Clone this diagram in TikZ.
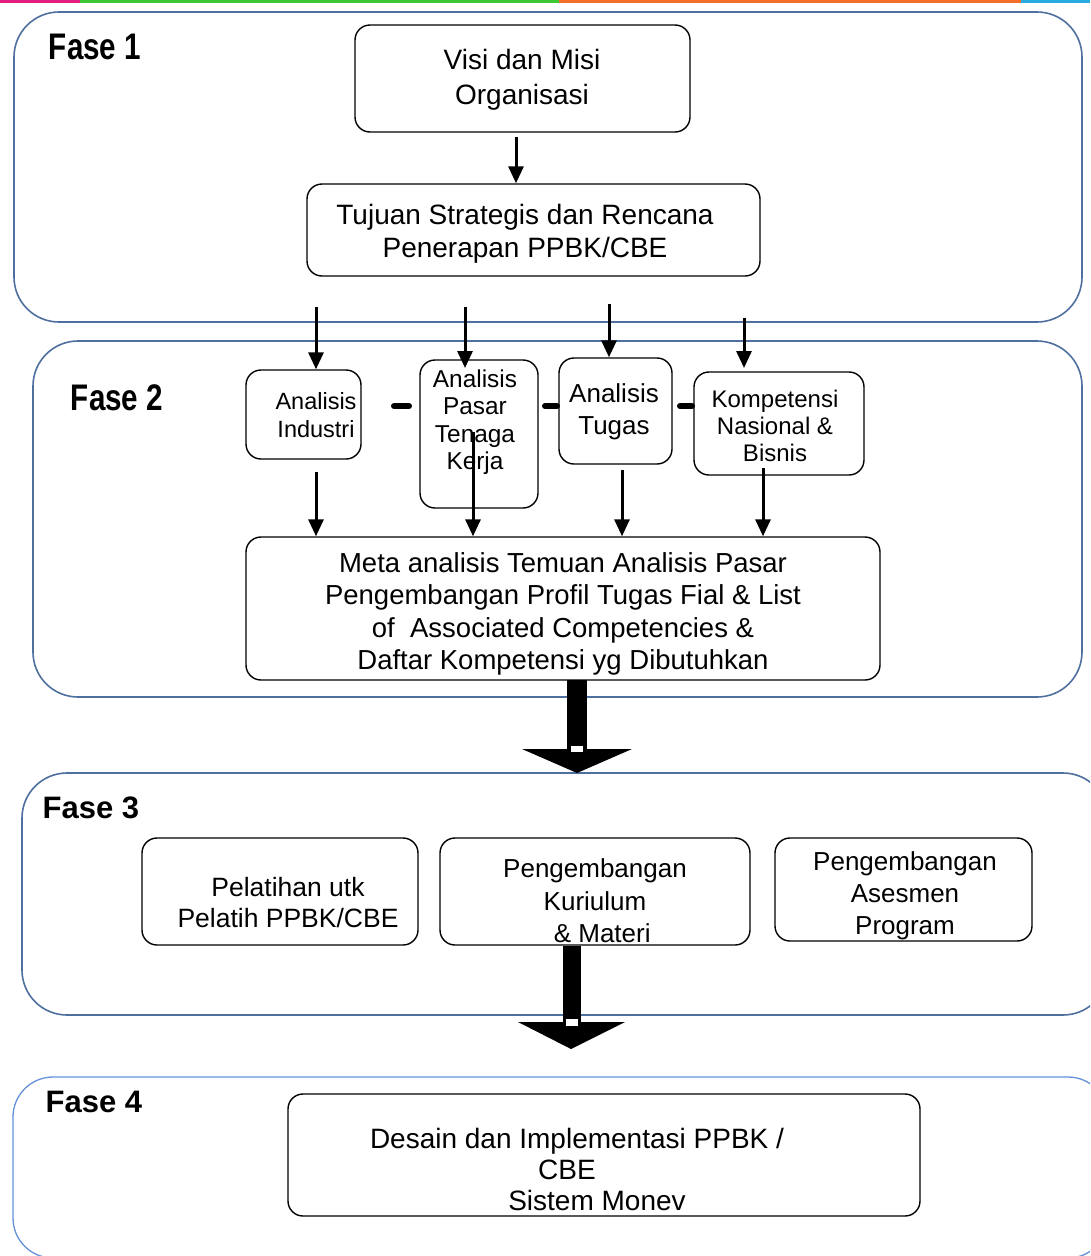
\documentclass[tikz,border=0pt]{standalone}
\usepackage{fontspec}
\setmainfont{Liberation Sans}
\usetikzlibrary{arrows.meta}
\definecolor{phaseblue}{RGB}{79,111,158}
\definecolor{phaseblueL}{RGB}{100,145,215}
\definecolor{barM}{RGB}{228,30,128}
\definecolor{barG}{RGB}{60,200,50}
\definecolor{barO}{RGB}{245,110,40}
\definecolor{barC}{RGB}{40,170,225}
\newcommand\fsz[2]{\fontsize{#1pt}{#2pt}\selectfont}
\tikzset{
  phasebox/.style={draw=phaseblue, line width=1.6pt, rounded corners=45pt},
  stepbox/.style={draw=black, line width=1.4pt, rounded corners=15pt, inner sep=0pt},
  txt/.style={align=center, inner sep=0pt},
  arr/.style={line width=3pt, -{Triangle[width=15pt,length=17pt]}},
  dashlink/.style={line width=6pt, line cap=round},
  fasetxt/.style={inner sep=0pt, font=\bfseries},
  block/.style={fill=black, draw=none}
}
\begin{document}
\begin{tikzpicture}[x=1pt,y=-1pt]
\useasboundingbox (0,0) rectangle (1090,1256);
\clip (0,0) rectangle (1090,1256);
% top coloured bar
\fill[barM] (0,0) rectangle (80,3);
\fill[barG] (80,0) rectangle (559,3);
\fill[barO] (559,0) rectangle (1021,3);
\fill[barC] (1021,0) rectangle (1090,3);

% phase frames
\draw[phasebox] (14,12) rectangle (1082,322);
\draw[phasebox] (33,341) rectangle (1082,697);
\draw[phasebox] (22,773) rectangle (1108,1015);
\draw[phasebox, draw=phaseblueL, line width=1.3pt, rounded corners=40pt] (13,1077) rectangle (1108,1258);

% phase labels
\node[fasetxt] (f1) at (95,47) {\scalebox{0.8}[1]{\fsz{37}{40}\bfseries Fase 1}};
\node[fasetxt] (f2) at (117,398) {\scalebox{0.8}[1]{\fsz{37}{40}\bfseries Fase 2}};
\node[fasetxt] (f3) at (91,808) {\fsz{31}{34}\bfseries Fase 3};
\node[fasetxt] (f4) at (94,1102) {\fsz{31}{34}\bfseries Fase 4};

% Fase 1
\node[stepbox, minimum width=335pt, minimum height=107pt] (visi) at (522.5,78.5) {};
\node[txt, font=\fsz{28}{35}] (visiT) at (522,80) {Visi dan Misi\\Organisasi};
\node[stepbox, minimum width=453pt, minimum height=92pt] (tuj) at (533.5,230) {};
\node[txt, font=\fsz{28}{33}] (tujT) at (525,234) {Tujuan Strategis dan Rencana\\Penerapan PPBK/CBE};
\coordinate (v1) at (516,137);
\draw[arr] (v1) -- (v1 |- tuj.north);

% Fase 2 boxes
\node[stepbox, minimum width=115pt, minimum height=89pt] (ind) at (303.5,414.5) {};
\node[txt, font=\fsz{23.5}{28}] (indT) at (316,415) {Analisis\\Industri};
\node[stepbox, minimum width=118pt, minimum height=148pt] (pas) at (479,434) {};
\node[txt, font=\fsz{24.4}{27.5}] (pasT) at (475,422) {Analisis\\Pasar\\Tenaga\\Kerja};
\node[stepbox, minimum width=113pt, minimum height=106pt] (tug) at (615.5,411) {};
\node[txt, font=\fsz{26}{32}] (tugT) at (614,412) {Analisis\\Tugas};
\node[stepbox, minimum width=170pt, minimum height=103pt] (kom) at (779,423.5) {};
\node[txt, font=\fsz{24}{27}] (komT) at (775,426) {Kompetensi\\Nasional \&\\Bisnis};

% dash links
\coordinate (d1a) at (394,406); \coordinate (d1b) at (409,406);
\coordinate (d2a) at (545,406); \coordinate (d2b) at (557,406);
\coordinate (d3a) at (680,406); \coordinate (d3b) at (692,406);
\draw[dashlink] (d1a) -- (d1b);
\draw[dashlink] (d2a) -- (d2b);
\draw[dashlink] (d3a) -- (d3b);

% arrows from Fase 1 into Fase 2 boxes
\coordinate (s1) at (316,307); \coordinate (s2) at (465,307);
\coordinate (s3) at (609,304); \coordinate (s4) at (744,318);
\draw[arr] (s1) -- (s1 |- ind.north);
\draw[arr] (s2) -- ++(0,61);
\draw[arr] (s3) -- (s3 |- tug.north);
\draw[arr] (s4) -- ++(0,50);

% Meta box
\node[stepbox, minimum width=634pt, minimum height=143pt] (meta) at (563,608.5) {};
\node[txt, font=\fsz{27.5}{32.3}] (metaT) at (563,614) {Meta analisis Temuan Analisis Pasar\\Pengembangan Profil Tugas Fial \& List\\of\ \ Associated Competencies \&\\Daftar Kompetensi yg Dibutuhkan};

\coordinate (e1) at (316,472); \coordinate (e2) at (473,432);
\coordinate (e3) at (622,470); \coordinate (e4) at (763,468);
\draw[arr] (e1) -- (e1 |- meta.north);
\draw[arr] (e2) -- (e2 |- meta.north);
\draw[arr] (e3) -- (e3 |- meta.north);
\draw[arr] (e4) -- (e4 |- meta.north);

% block arrow 1
\fill[block] (567,680) rectangle (587,752);
\fill[block] (522,749) -- (632,749) -- (577,773) -- cycle;
\fill[white] (571,746) rectangle (583,752);

% Fase 3 boxes
\node[stepbox, minimum width=276pt, minimum height=107pt] (pel) at (280,891.5) {};
\node[txt, font=\fsz{26.5}{31}] (pelT) at (288,903) {Pelatihan utk\\Pelatih PPBK/CBE};
\node[stepbox, minimum width=310pt, minimum height=107pt] (kur) at (595,891.5) {};
\node[txt, font=\fsz{26}{32.5}] (kurT) at (595,901) {Pengembangan\\Kuriulum\\\ \ \& Materi};
\node[stepbox, minimum width=257pt, minimum height=103pt] (ase) at (903.5,889.5) {};
\node[txt, font=\fsz{26}{32}] (aseT) at (905,896) {Pengembangan\\Asesmen\\Program};

% block arrow 2
\fill[block] (563,946) rectangle (581,1023);
\fill[block] (518,1022) -- (625,1022) -- (571,1049) -- cycle;
\fill[white] (566,1019) rectangle (578,1026);

% Fase 4
\node[stepbox, minimum width=632pt, minimum height=122pt] (des) at (604,1155) {};
\node[txt, font=\fsz{28}{31}] (desT) at (577,1169) {Desain dan Implementasi PPBK /\\CBE\rule{20pt}{0pt}\\\rule{40pt}{0pt}Sistem Monev};
\end{tikzpicture}
\end{document}
